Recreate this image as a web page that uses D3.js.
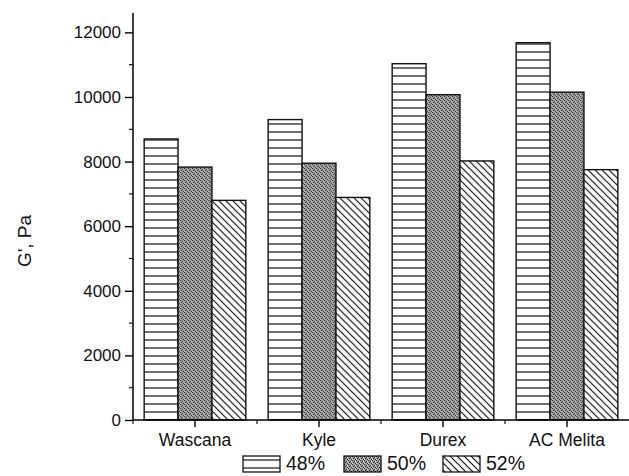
<!DOCTYPE html>
<html>
<head>
<meta charset="utf-8">
<script src="https://cdn.jsdelivr.net/npm/d3@7"></script>
<style>
  body { margin: 0; background: #fff; }
  text { font-family: Arial, "Liberation Sans", sans-serif; fill: #111; }
</style>
</head>
<body>
<svg id="chart" width="629" height="476"></svg>
<script>
const categories = ["Wascana", "Kyle", "Durex", "AC Melita"];
const seriesNames = ["48%", "50%", "52%"];
const values48 = [8700, 9300, 11030, 11680];
const values50 = [7830, 7950, 10070, 10150];
const values52 = [6800, 6890, 8020, 7750];
const yTicks = [0, 2000, 4000, 6000, 8000, 10000, 12000];
const yMinorTicks = [1000, 3000, 5000, 7000, 9000, 11000];

const data = categories.map((c, i) => ({
  cat: c,
  vals: [values48[i], values50[i], values52[i]]
}));

const svg = d3.select("#chart");
const plotLeft = 133, plotRight = 629, plotTop = 13, plotBottom = 420;

// patterns
const defs = svg.append("defs");

const p1 = defs.append("pattern")
  .attr("id", "pat48").attr("patternUnits", "userSpaceOnUse")
  .attr("width", 8).attr("height", 8);
p1.append("rect").attr("width", 8).attr("height", 8).attr("fill", "#fff");
p1.append("line").attr("x1", 0).attr("x2", 8).attr("y1", 4).attr("y2", 4)
  .attr("stroke", "#111").attr("stroke-width", 1.2);

const p2 = defs.append("pattern")
  .attr("id", "pat50").attr("patternUnits", "userSpaceOnUse")
  .attr("width", 4).attr("height", 4);
p2.append("rect").attr("width", 4).attr("height", 4).attr("fill", "#9a9a9a");
[[0, 0], [2, 1], [1, 2], [3, 3]].forEach(([x, y]) => {
  p2.append("rect").attr("x", x).attr("y", y).attr("width", 1).attr("height", 1).attr("fill", "#333");
});
[[3, 1], [0, 3]].forEach(([x, y]) => {
  p2.append("rect").attr("x", x).attr("y", y).attr("width", 1).attr("height", 1).attr("fill", "#e0e0e0");
});

const p3 = defs.append("pattern")
  .attr("id", "pat52").attr("patternUnits", "userSpaceOnUse")
  .attr("width", 7).attr("height", 7);
p3.append("rect").attr("width", 7).attr("height", 7).attr("fill", "#fff");
p3.append("path").attr("d", "M-1,-1 L8,8 M-1,6 L1,8 M6,-1 L8,1")
  .attr("stroke", "#111").attr("stroke-width", 1.2);

const fills = ["url(#pat48)", "url(#pat50)", "url(#pat52)"];

const x = d3.scaleBand()
  .domain(categories)
  .range([plotLeft, plotRight])
  .paddingInner(0.18)
  .paddingOuter(0.09);

const xSub = d3.scaleBand()
  .domain(d3.range(seriesNames.length))
  .range([0, x.bandwidth()]);

const y = d3.scaleLinear().domain([0, 12600]).range([plotBottom, plotTop]);

// bars
const groups = svg.append("g").selectAll("g")
  .data(data).enter().append("g")
  .attr("transform", d => `translate(${x(d.cat)},0)`);

groups.selectAll("rect")
  .data(d => d.vals.map((v, i) => ({ v, i })))
  .enter().append("rect")
  .attr("x", d => xSub(d.i))
  .attr("y", d => y(d.v))
  .attr("width", xSub.bandwidth())
  .attr("height", d => y(0) - y(d.v))
  .attr("fill", d => fills[d.i])
  .attr("stroke", "#111")
  .attr("stroke-width", 1.4);

// y axis
const yAxis = svg.append("g")
  .attr("transform", `translate(${plotLeft},0)`)
  .call(d3.axisLeft(y).tickValues(yTicks).tickSize(8).tickPadding(4).tickFormat(d3.format("d")));
yAxis.select(".domain").attr("d", `M0,${plotTop}V${plotBottom}`).attr("stroke-width", 1.5);
yAxis.selectAll(".tick line").attr("stroke-width", 1.4);
yAxis.selectAll("text").style("font-size", "17px").attr("fill", "#111");

svg.append("g").selectAll("line")
  .data(yMinorTicks).enter().append("line")
  .attr("x1", plotLeft - 4).attr("x2", plotLeft)
  .attr("y1", d => y(d)).attr("y2", d => y(d))
  .attr("stroke", "#111").attr("stroke-width", 1.2);

// x axis
const xAxis = svg.append("g")
  .attr("transform", `translate(0,${plotBottom})`)
  .call(d3.axisBottom(x).tickSize(7).tickPadding(7));
xAxis.select(".domain").attr("d", `M${plotLeft},0H${plotRight}`).attr("stroke-width", 1.5);
xAxis.selectAll(".tick line").attr("stroke-width", 1.4);
xAxis.selectAll("text").style("font-size", "17.5px").attr("fill", "#111");

const bounds = categories.map(c => x(c) - x.step() * x.paddingInner() / 2);
svg.append("g").selectAll("line")
  .data(bounds).enter().append("line")
  .attr("x1", d => d).attr("x2", d => d)
  .attr("y1", plotBottom).attr("y2", plotBottom + 4)
  .attr("stroke", "#111").attr("stroke-width", 1.2);

// y label
svg.append("text")
  .attr("transform", "translate(31,241) rotate(-90)")
  .attr("text-anchor", "middle")
  .style("font-size", "19px")
  .text("G', Pa");

// legend
const legendX = [243, 344, 443];
const legend = svg.append("g").selectAll("g")
  .data(seriesNames).enter().append("g")
  .attr("transform", (d, i) => `translate(${legendX[i]},456)`);
legend.append("rect")
  .attr("width", 37).attr("height", 16)
  .attr("fill", (d, i) => fills[i])
  .attr("stroke", "#111").attr("stroke-width", 1.3);
legend.append("text")
  .attr("x", 43).attr("y", 14)
  .style("font-size", "19.5px")
  .text(d => d);
</script>
</body>
</html>
